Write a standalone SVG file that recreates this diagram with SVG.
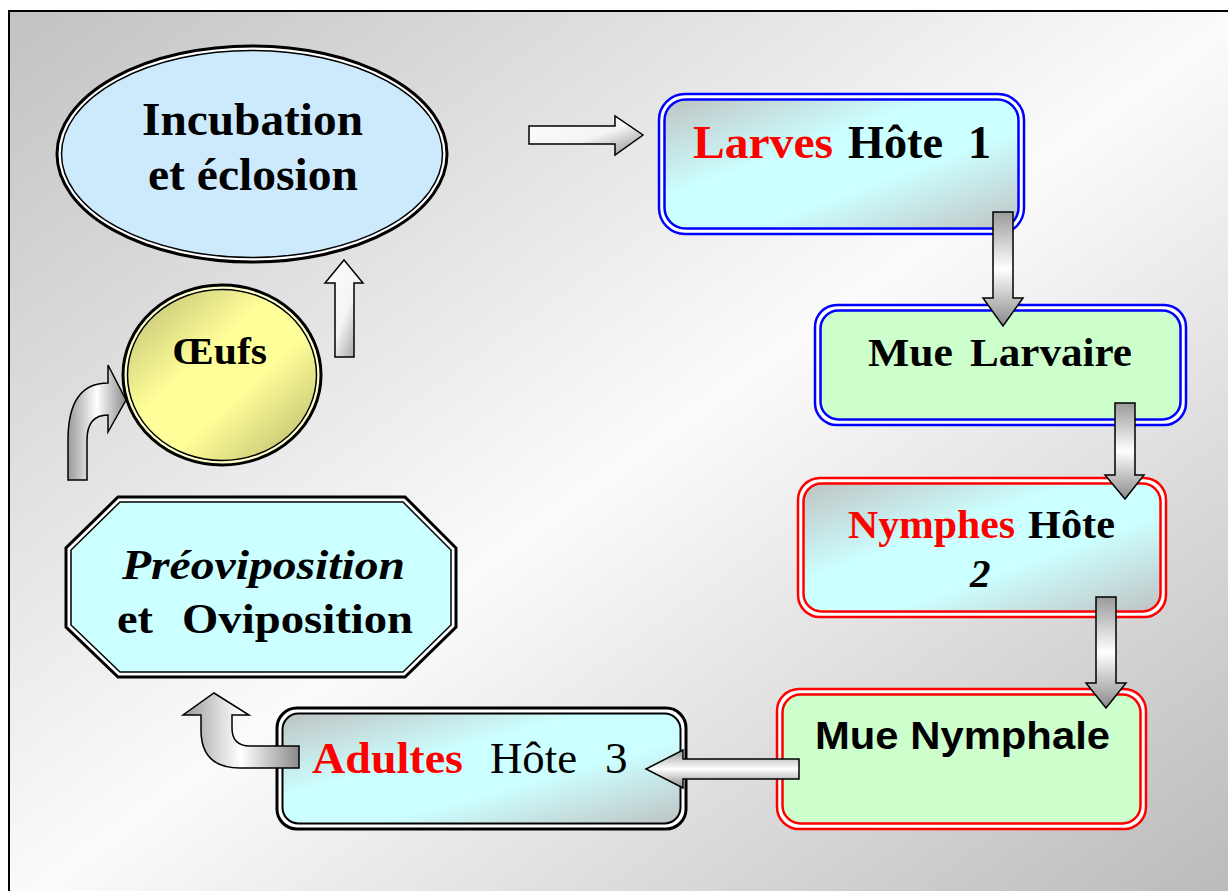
<svg xmlns="http://www.w3.org/2000/svg" width="1228" height="891" viewBox="0 0 1228 891">
<style>
.tb{font-family:"Liberation Serif","Times New Roman",serif;font-weight:bold;fill:#000}
.tr{font-family:"Liberation Serif","Times New Roman",serif;font-weight:normal;fill:#000}
.ts{font-family:"Liberation Sans",Arial,sans-serif;font-weight:bold;fill:#000}
.red{fill:#ff0000}
.arr{stroke:#000;stroke-width:1.5;stroke-linejoin:miter}
</style>
<defs>
<linearGradient id="bg" x1="0" y1="0" x2="1" y2="1">
<stop offset="0" stop-color="#c2c2c2"/>
<stop offset="0.5" stop-color="#fbfbfb"/>
<stop offset="1" stop-color="#b8b8b8"/>
</linearGradient>
<linearGradient id="cyan" x1="0" y1="0" x2="1" y2="1">
<stop offset="0" stop-color="#bfc3c3"/>
<stop offset="0.38" stop-color="#ccffff"/>
<stop offset="0.62" stop-color="#ccffff"/>
<stop offset="1" stop-color="#bfc3c3"/>
</linearGradient>
<linearGradient id="yel" x1="0" y1="0" x2="1" y2="1">
<stop offset="0" stop-color="#b9b970"/>
<stop offset="0.4" stop-color="#ffff99"/>
<stop offset="0.6" stop-color="#ffff99"/>
<stop offset="1" stop-color="#b5b56a"/>
</linearGradient>
<linearGradient id="gv" x1="0" y1="0" x2="0" y2="1">
<stop offset="0" stop-color="#9a9a9a"/>
<stop offset="0.5" stop-color="#ffffff"/>
<stop offset="1" stop-color="#8a8a8a"/>
</linearGradient>
<linearGradient id="gh" x1="0" y1="0" x2="1" y2="0">
<stop offset="0" stop-color="#9a9a9a"/>
<stop offset="0.5" stop-color="#ffffff"/>
<stop offset="1" stop-color="#8a8a8a"/>
</linearGradient>
<linearGradient id="gw" x1="0" y1="0" x2="1" y2="1">
<stop offset="0" stop-color="#ffffff"/>
<stop offset="0.55" stop-color="#f4f4f4"/>
<stop offset="1" stop-color="#8c8c8c"/>
</linearGradient>
</defs>

<rect x="0" y="0" width="1228" height="891" fill="#ffffff"/>
<rect x="9" y="11" width="1240" height="900" fill="url(#bg)" stroke="#000" stroke-width="2"/>

<g id="incubation">
<ellipse cx="252" cy="154" rx="195" ry="108" fill="#ffffff" stroke="#000" stroke-width="3"/>
<ellipse cx="252" cy="154" rx="190.5" ry="103.5" fill="#cdeafd" stroke="#000" stroke-width="1.5"/>
<text class="tb" x="252.5" y="135" font-size="47" text-anchor="middle" textLength="221" lengthAdjust="spacingAndGlyphs">Incubation</text>
<text class="tb" x="253" y="190" font-size="47" text-anchor="middle" textLength="210" lengthAdjust="spacingAndGlyphs">et éclosion</text>
</g>

<g id="larves">
<rect x="659" y="94" width="365" height="140" rx="26" fill="#ffffff" stroke="#0000ff" stroke-width="2.5"/>
<rect x="664.5" y="99.5" width="354" height="129" rx="21" fill="url(#cyan)" stroke="#0000ff" stroke-width="2.5"/>
<text class="tb" y="158" font-size="46"><tspan class="red" x="693" textLength="140" lengthAdjust="spacingAndGlyphs">Larves</tspan><tspan x="848" textLength="95" lengthAdjust="spacingAndGlyphs">Hôte</tspan><tspan x="968">1</tspan></text>
</g>

<g id="mue-larvaire">
<rect x="815" y="305" width="371" height="120" rx="22" fill="#ffffff" stroke="#0000ff" stroke-width="2.5"/>
<rect x="820.5" y="310.5" width="360" height="109" rx="18" fill="#ccffcc" stroke="#0000ff" stroke-width="2.5"/>
<text class="tb" y="366" font-size="41"><tspan x="868" textLength="85" lengthAdjust="spacingAndGlyphs">Mue</tspan><tspan x="970" textLength="162" lengthAdjust="spacingAndGlyphs">Larvaire</tspan></text>
</g>

<g id="nymphes">
<rect x="798" y="478" width="368" height="139" rx="22" fill="#ffffff" stroke="#ff0000" stroke-width="2.5"/>
<rect x="803.5" y="483.5" width="357" height="128" rx="18" fill="url(#cyan)" stroke="#ff0000" stroke-width="2.5"/>
<text class="tb" y="538" font-size="41"><tspan class="red" x="848" textLength="167" lengthAdjust="spacingAndGlyphs">Nymphes</tspan><tspan x="1028" textLength="87" lengthAdjust="spacingAndGlyphs">Hôte</tspan></text>
<text class="tb" x="970" y="587" font-size="41" font-style="italic">2</text>
</g>

<g id="mue-nymphale">
<rect x="777" y="689" width="369" height="140" rx="22" fill="#ffffff" stroke="#ff0000" stroke-width="2.5"/>
<rect x="782.5" y="694.5" width="358" height="129" rx="18" fill="#ccffcc" stroke="#ff0000" stroke-width="2.5"/>
<text class="ts" x="815" y="749" font-size="38" textLength="295" lengthAdjust="spacingAndGlyphs">Mue Nymphale</text>
</g>

<g id="adultes">
<rect x="277" y="708" width="409" height="121" rx="20" fill="#ffffff" stroke="#000" stroke-width="3"/>
<rect x="282.5" y="713.5" width="398" height="110" rx="16" fill="url(#cyan)" stroke="#000" stroke-width="2"/>
<text y="773" font-size="45"><tspan class="tb red" x="312" textLength="151" lengthAdjust="spacingAndGlyphs">Adultes</tspan><tspan class="tr" x="490" textLength="87" lengthAdjust="spacingAndGlyphs">Hôte</tspan><tspan class="tr" x="605">3</tspan></text>
</g>

<g id="preoviposition">
<polygon points="118,497 405,497 456,548 456,627 405,677 118,677 66,627 66,548" fill="#ffffff" stroke="#000" stroke-width="3"/>
<polygon points="120,502 403,502 451,550 451,625 403,672 120,672 71,625 71,550" fill="#ccffff" stroke="#000" stroke-width="1.5"/>
<text class="tb" x="122" y="579" font-size="42" font-style="italic" textLength="283" lengthAdjust="spacingAndGlyphs">Préoviposition</text>
<text class="tb" y="633" font-size="42"><tspan x="117" textLength="36" lengthAdjust="spacingAndGlyphs">et</tspan><tspan x="182" textLength="231" lengthAdjust="spacingAndGlyphs">Oviposition</tspan></text>
</g>

<g id="oeufs">
<ellipse cx="222" cy="375" rx="99" ry="90" fill="#ffffcc" stroke="#000" stroke-width="3"/>
<ellipse cx="222" cy="375" rx="94.5" ry="85.5" fill="url(#yel)" stroke="#000" stroke-width="1.5"/>
<text class="tb" x="172" y="364" font-size="38" textLength="95" lengthAdjust="spacingAndGlyphs">Œufs</text>
</g>

<g id="connectors">
<path class="arr" fill="url(#gw)" d="M529 126 L615 126 L615 116 L643 135 L615 155 L615 144 L529 144 Z"/>
<path class="arr" fill="url(#gv)" d="M993 212 L1013 212 L1013 298 L1023 298 L1003 326 L983 298 L993 298 Z"/>
<path class="arr" fill="url(#gv)" d="M1115 403 L1135 403 L1135 475 L1144 475 L1125 499 L1105 475 L1115 475 Z"/>
<path class="arr" fill="url(#gv)" d="M1096 597 L1116 597 L1116 683 L1126 683 L1106 708 L1086 683 L1096 683 Z"/>
<path class="arr" fill="url(#gv)" d="M799 759 L683 759 L683 750 L646 769 L683 788 L683 779 L799 779 Z"/>
<path class="arr" fill="url(#gh)" d="M299 746 L250 746 Q232 746 232 728 L232 715 L249 715 L214 693 L183 715 L201 715 L201 730 Q201 768 240 768 L299 768 Z"/>
<path class="arr" fill="url(#gh)" d="M68 480 L68 440 Q68 383 108 383 L108 365 L126 400 L108 432 L108 415 Q87 415 87 440 L87 480 Z"/>
<path class="arr" fill="url(#gw)" d="M335 357 L335 283 L325 283 L344 260 L363 283 L354 283 L354 357 Z"/>
</g>
</svg>
